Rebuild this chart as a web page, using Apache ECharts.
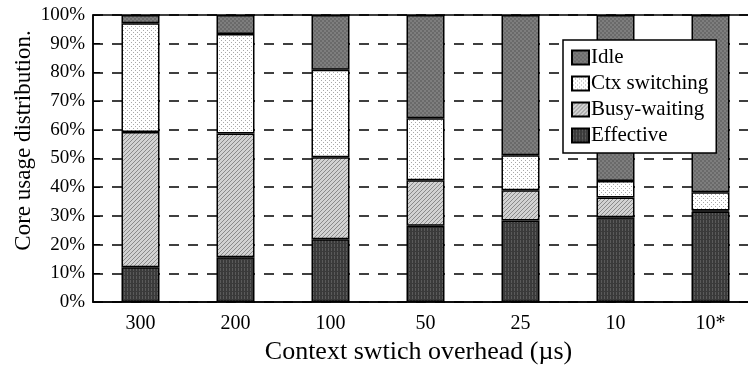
<!DOCTYPE html>
<html><head><meta charset="utf-8">
<script src="https://cdn.jsdelivr.net/npm/echarts@6/dist/echarts.min.js"></script>
<style>html,body{margin:0;padding:0;background:#fff}#c{width:748px;height:368px}</style>
</head><body><div id="c"></div>
<script>
const categories = ['300', '200', '100', '50', '25', '10', '10*'];
const effective = [12.1, 15.6, 21.9, 26.6, 28.4, 29.5, 31.5];
const busyWaiting = [47.1, 43.1, 28.5, 15.8, 10.5, 6.9, 0.4];
const ctxSwitching = [37.9, 34.7, 30.5, 21.6, 12.2, 5.8, 6.3];
const idle = [2.9, 6.6, 19.1, 36.0, 48.9, 57.8, 61.8];
const legendOrder = ['Idle', 'Ctx switching', 'Busy-waiting', 'Effective'];

function tile(w, h, draw) {
  const c = document.createElement('canvas');
  c.width = w; c.height = h;
  draw(c.getContext('2d'));
  return { image: c, repeat: 'repeat' };
}
const patIdle = tile(4, 4, g => {
  g.fillStyle = '#7e7e7e'; g.fillRect(0, 0, 4, 4);
  g.fillStyle = '#6a6a6a'; g.fillRect(0, 0, 2, 2); g.fillRect(2, 2, 2, 2);
});
const patCtx = tile(4, 4, g => {
  g.fillStyle = '#ffffff'; g.fillRect(0, 0, 4, 4);
  g.fillStyle = '#a8a8a8'; g.fillRect(1, 0, 1, 1); g.fillRect(3, 2, 1, 1);
});
const patBusy = tile(4, 4, g => {
  g.fillStyle = '#d2d2d2'; g.fillRect(0, 0, 4, 4);
  g.fillStyle = '#8a8a8a';
  for (let i = 0; i < 4; i++) g.fillRect((3 - i + 4) % 4, i, 1, 1);
});
const patEff = tile(3, 4, g => {
  g.fillStyle = '#3a3a3a'; g.fillRect(0, 0, 3, 4);
  g.fillStyle = '#5a5a5a'; g.fillRect(1, 0, 1, 3);
});

const font = 'Liberation Serif';
const chart = echarts.init(document.getElementById('c'), null, { renderer: 'canvas' });
function bar(name, data, color) {
  return {
    name, type: 'bar', stack: 'total', data, barWidth: '40%',
    itemStyle: { color, borderColor: '#000', borderWidth: 1.5 },
    emphasis: { disabled: true }
  };
}
chart.setOption({
  animation: false,
  textStyle: { fontFamily: font, color: '#000' },
  grid: { left: 93, top: 15, width: 665, bottom: 66, show: true, borderColor: '#000', borderWidth: 1.5, containLabel: false, outerBoundsMode: 'none' },
  legend: {
    data: legendOrder, orient: 'vertical', left: 563, top: 40,
    width: 153, padding: [7, 8, 7, 8], itemGap: 5,
    backgroundColor: '#fff', borderColor: '#000', borderWidth: 1.5,
    icon: 'rect', itemWidth: 17, itemHeight: 14,
    textStyle: { fontFamily: font, fontSize: 21, color: '#000', padding: [0, 0, 0, -3] }
  },
  xAxis: {
    type: 'category', data: categories,
    name: 'Context swtich overhead (\u00b5s)', nameLocation: 'middle', nameGap: 37,
    nameTextStyle: { fontFamily: font, fontSize: 26, color: '#000', padding: [0, 14, 0, 0] },
    axisLine: { lineStyle: { color: '#000', width: 1.5 } },
    axisTick: { inside: true, length: 6, lineStyle: { color: '#000' } },
    axisLabel: { fontFamily: font, fontSize: 20, color: '#000', margin: 12 }
  },
  yAxis: {
    type: 'value', min: 0, max: 100, interval: 10,
    name: 'Core usage distribution.', nameLocation: 'middle', nameGap: 58, nameMoveOverlap: false,
    nameTextStyle: { fontFamily: font, fontSize: 23, color: '#000', padding: [0, 0, 0, 36] },
    axisLine: { show: true, lineStyle: { color: '#000', width: 1.5 } },
    axisTick: { show: true, inside: true, length: 7, lineStyle: { color: '#000' } },
    axisLabel: { fontFamily: font, fontSize: 19, color: '#000', margin: 8, formatter: '{value}%' },
    splitLine: { show: true, lineStyle: { color: '#000', width: 1.5, type: [10, 9] } }
  },
  series: [
    bar('Effective', effective, patEff),
    bar('Busy-waiting', busyWaiting, patBusy),
    bar('Ctx switching', ctxSwitching, patCtx),
    bar('Idle', idle, patIdle)
  ]
});
</script></body></html>
